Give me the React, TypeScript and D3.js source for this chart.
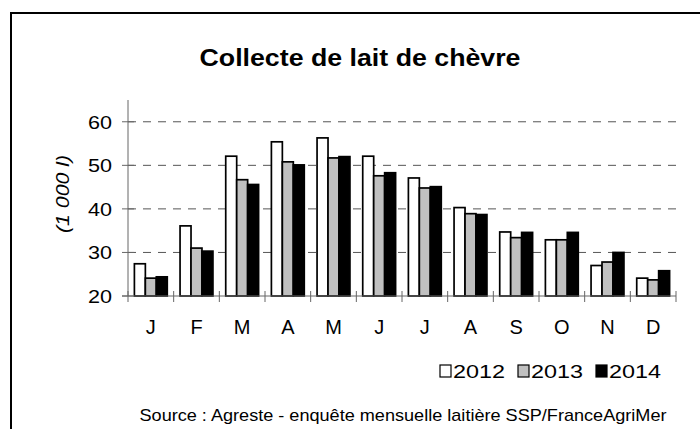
import React from 'react';
import * as d3 from 'd3';

// Monthly goat milk collection (1 000 l)
const months = ['J', 'F', 'M', 'A', 'M', 'J', 'J', 'A', 'S', 'O', 'N', 'D'];
const years = ['2012', '2013', '2014'];
const values2012 = [27.4, 36.1, 52.1, 55.4, 56.3, 52.1, 47.1, 40.3, 34.7, 32.9, 27.0, 24.1];
const values2013 = [24.1, 31.0, 46.7, 50.8, 51.7, 47.6, 44.8, 38.9, 33.4, 32.9, 27.8, 23.7];
const values2014 = [24.4, 30.3, 45.6, 50.1, 52.0, 48.3, 45.1, 38.7, 34.6, 34.6, 30.0, 25.8];
const yTicks = [20, 30, 40, 50, 60];

const W = 700;
const H = 429;
const FONT = 'Liberation Sans, Arial, sans-serif';

const fills: Record<string, string> = { '2012': '#ffffff', '2013': '#c0c0c0', '2014': '#000000' };

export default function App() {
    const series = [values2012, values2013, values2014];
    const idx = months.map((_, i) => String(i));

    const x0 = d3.scaleBand().domain(idx).range([128, 676]).padding(0);
    const groupW = x0.bandwidth() * 0.72;
    const x1 = d3.scaleBand().domain(years).range([0, groupW]).padding(0);
    const y = d3.scaleLinear().domain([20, 65]).range([296, 100]);

    const y0 = y(20);

    return (
        <svg width={W} height={H} style={{ position: 'absolute', left: 0, top: 0, background: '#fff' }}
            fontFamily={FONT}>
            {/* frame */}
            <path d={`M11,${H} L11,13 L${W},13`} fill="none" stroke="#000" strokeWidth={2} />

            <text x={360} y={66} textAnchor="middle" fontSize={23} fontWeight="bold"
                textLength={321} lengthAdjust="spacingAndGlyphs">
                Collecte de lait de chèvre
            </text>

            {/* grid */}
            {yTicks.filter(t => t > 20).map(t => (
                <line key={t} x1={128} x2={676} y1={y(t)} y2={y(t)}
                    stroke="#555" strokeWidth={1} strokeDasharray="8,7" />
            ))}

            {/* bars */}
            {idx.map((k, i) => (
                <g key={k} transform={`translate(${x0(k)! + (x0.bandwidth() - groupW) / 2},0)`}>
                    {years.map((yr, s) => (
                        <rect key={yr} x={x1(yr)} y={y(series[s][i])}
                            width={x1.bandwidth()} height={y0 - y(series[s][i])}
                            fill={fills[yr]} stroke="#000" strokeWidth={1.7} />
                    ))}
                </g>
            ))}

            {/* axes */}
            <line x1={128} x2={128} y1={y(65)} y2={y0} stroke="#666" strokeWidth={1} />
            <line x1={122} x2={676} y1={y0} y2={y0} stroke="#666" strokeWidth={1} />
            {yTicks.map(t => (
                <g key={t}>
                    <line x1={122} x2={134} y1={y(t)} y2={y(t)} stroke="#666" />
                    <text x={112} y={y(t)} dy="0.36em" textAnchor="end" fontSize={19}
                        textLength={24} lengthAdjust="spacingAndGlyphs">{t}</text>
                </g>
            ))}
            {d3.range(13).map(i => {
                const xx = 128 + i * x0.step();
                return <line key={i} x1={xx} x2={xx} y1={y0 - 5} y2={y0 + 6} stroke="#666" />;
            })}
            {idx.map((k, i) => (
                <text key={k} x={x0(k)! + x0.bandwidth() / 2} y={334} textAnchor="middle" fontSize={20}>
                    {months[i]}
                </text>
            ))}

            <text transform={`translate(69,194) rotate(-90)`} textAnchor="middle"
                fontSize={19} fontStyle="italic" textLength={78} lengthAdjust="spacingAndGlyphs">(1 000 l)</text>

            {/* legend */}
            {years.map((yr, s) => {
                const lx = [440, 518, 596][s];
                return (
                    <g key={yr}>
                        <rect x={lx} y={365} width={11} height={12} fill={fills[yr]} stroke="#000" strokeWidth={1.2} />
                        <text x={lx + 13} y={378} fontSize={18} textLength={52}
                            lengthAdjust="spacingAndGlyphs">{yr}</text>
                    </g>
                );
            })}

            <text x={403} y={421} textAnchor="middle" fontSize={17} textLength={527} lengthAdjust="spacingAndGlyphs">
                Source : Agreste - enquête mensuelle laitière SSP/FranceAgriMer
            </text>
        </svg>
    );
}
